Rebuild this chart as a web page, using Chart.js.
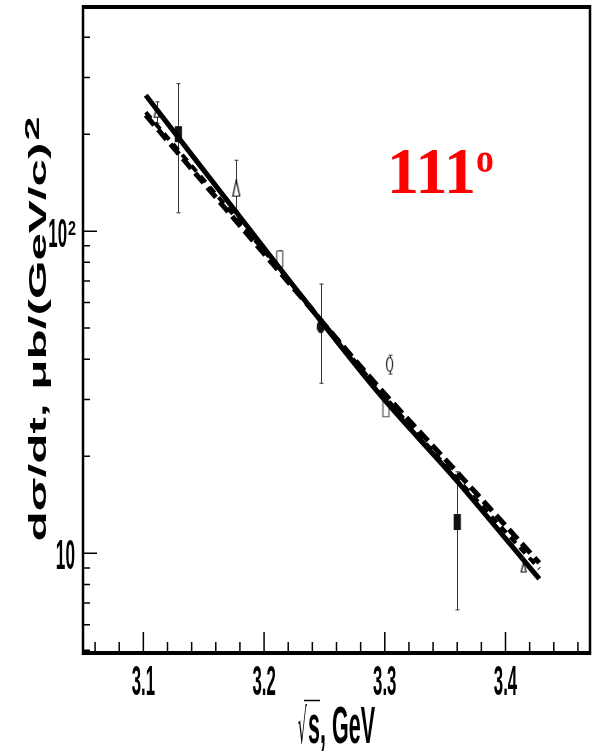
<!DOCTYPE html>
<html>
<head>
<meta charset="utf-8">
<script src="https://cdn.jsdelivr.net/npm/chart.js@4.4.1/dist/chart.umd.min.js"></script>
<style>
  html, body { margin: 0; padding: 0; background: #fff; }
  #wrap { width: 596px; height: 752px; }
</style>
</head>
<body>
<div id="wrap"><canvas id="chart" width="596" height="752"></canvas></div>
<script>
// measured dσ/dt at 111 deg, sqrt(s) in GeV
const pointX = [3.111, 3.129, 3.177, 3.213, 3.247, 3.304, 3.301, 3.360, 3.415];
const pointY = [234, 200, 136, 82, 50.5, 38.6, 28.1, 12.5, 9.06];
const errLow = [216, 114, 116, 77, 33.7, 36, null, 6.67, null];
const errHigh = [252, 287, 166, 87, 68.5, 41.2, null, 17.9, null];
const markerKind = ["triSmall", "boxFilled", "tri", "box", "dotFilled", "ring", "box", "boxFilled", "triSmall"];

// model curves
const curveX = [3.102, 3.213, 3.295, 3.359, 3.428];
const solidY = [264, 76.7, 31.4, 16.9, 8.32];
const dashAY = [229, 74.6, 32.8, 18.0, 9.33];
const dashBY = [234, 76, 32.2, 17.2, 8.95];

// axes
const xMin = 3.05, xMax = 3.47;
const yMin = 4.9, yMax = 500;
const xLabels = [3.1, 3.2, 3.3, 3.4];
const yLabels = [10, 100];
const yMinor = [5, 6, 7, 8, 9, 20, 30, 40, 50, 60, 70, 80, 90, 200, 300, 400];

function makeMarker(kind) {
  const sizes = {
    boxFilled: [7, 16], box: [7, 17], tri: [8, 17], triSmall: [6, 11],
    dotFilled: [8, 13], ring: [7, 15]
  };
  const [w, h] = sizes[kind];
  const c = document.createElement("canvas");
  c.width = w + 2;
  c.height = h + 2;
  const g = c.getContext("2d");
  g.translate(1, 1);
  g.lineWidth = 1.2;
  g.fillStyle = "#fff";
  g.strokeStyle = "#111";
  g.beginPath();
  if (kind === "boxFilled" || kind === "box") {
    g.rect(0.5, 0.5, w - 1, h - 1);
  } else if (kind === "tri" || kind === "triSmall") {
    g.moveTo(w / 2, 0.5);
    g.lineTo(w - 0.5, h - 0.5);
    g.lineTo(0.5, h - 0.5);
    g.closePath();
  } else {
    g.ellipse(w / 2, h / 2, w / 2 - 0.5, h / 2 - 0.5, 0, 0, Math.PI * 2);
  }
  if (kind === "boxFilled" || kind === "dotFilled") {
    g.fillStyle = "#111";
  }
  if (kind === "box") g.strokeStyle = "#555";
  g.fill();
  g.stroke();
  return c;
}

const markerStyles = markerKind.map(makeMarker);

// text squeezed horizontally like the original plot fonts
function squeezedText(ctx, str, x, y, font, sx, sy, align) {
  ctx.save();
  ctx.translate(x, y);
  ctx.scale(sx, sy);
  ctx.font = font;
  ctx.textAlign = align;
  ctx.textBaseline = "alphabetic";
  ctx.fillText(str, 0, 0);
  ctx.restore();
}

const errorBars = {
  id: "errorBars",
  beforeDatasetsDraw(chart) {
    const { ctx, scales: { x, y } } = chart;
    ctx.save();
    ctx.strokeStyle = "#333";
    ctx.lineWidth = 1;
    pointX.forEach((v, i) => {
      if (errLow[i] == null) return;
      const px = Math.round(x.getPixelForValue(v)) + 0.5;
      const y0 = y.getPixelForValue(errLow[i]);
      const y1 = y.getPixelForValue(errHigh[i]);
      ctx.beginPath();
      ctx.moveTo(px, y0); ctx.lineTo(px, y1);
      ctx.moveTo(px - 2, y0); ctx.lineTo(px + 2, y0);
      ctx.moveTo(px - 2, y1); ctx.lineTo(px + 2, y1);
      ctx.stroke();
    });
    ctx.restore();
  }
};

const frame = {
  id: "frame",
  afterDraw(chart) {
    const { ctx, chartArea: a, scales: { x, y } } = chart;
    const sans = '"Liberation Sans", Arial, sans-serif';
    ctx.save();
    ctx.strokeStyle = "#000";
    ctx.fillStyle = "#000";

    // box
    ctx.lineWidth = 4;
    ctx.beginPath();
    ctx.moveTo(a.left - 1, a.top + 1); ctx.lineTo(a.right + 1, a.top + 1);
    ctx.moveTo(a.left - 1, a.bottom); ctx.lineTo(a.right + 1, a.bottom);
    ctx.stroke();
    ctx.lineWidth = 2.5;
    ctx.beginPath();
    ctx.moveTo(a.left, a.top - 1); ctx.lineTo(a.left, a.bottom + 2);
    ctx.moveTo(a.right, a.top - 1); ctx.lineTo(a.right, a.bottom + 2);
    ctx.stroke();

    // inward ticks
    ctx.lineWidth = 1.5;
    ctx.beginPath();
    for (let k = 0; k <= 21; k++) {
      const v = xMin + 0.01 + k * 0.02;
      if (v > xMax) break;
      const px = x.getPixelForValue(v);
      const major = xLabels.some(t => Math.abs(t - v) < 1e-6);
      ctx.moveTo(px, a.bottom);
      ctx.lineTo(px, a.bottom - (major ? 21 : 11));
    }
    yLabels.forEach(v => {
      const py = y.getPixelForValue(v);
      ctx.moveTo(a.left, py); ctx.lineTo(a.left + 14, py);
    });
    yMinor.forEach(v => {
      const py = y.getPixelForValue(v);
      ctx.moveTo(a.left, py); ctx.lineTo(a.left + 7, py);
    });
    ctx.stroke();

    // tick labels
    xLabels.forEach(v => {
      squeezedText(ctx, v.toFixed(1), x.getPixelForValue(v), 695,
        "bold 40px " + sans, 0.42, 1.05, "center");
    });
    yLabels.forEach(v => {
      const py = y.getPixelForValue(v);
      if (v === 10) {
        squeezedText(ctx, "10", 75, py + 16, "bold 40px " + sans, 0.43, 1.05, "right");
      } else {
        squeezedText(ctx, "10", 67, py + 16, "bold 40px " + sans, 0.42, 1.0, "right");
        squeezedText(ctx, String(Math.round(Math.log10(v))), 68, py + 4,
          "bold 20px " + sans, 0.72, 1.0, "left");
      }
    });

    // y title, read bottom to top
    ctx.save();
    ctx.translate(46, 342);
    ctx.rotate(-Math.PI / 2);
    ctx.font = "bold 24px " + sans;
    const yTitle = "dσ/dt, μb/(GeV/c)";
    const along = 399 / ctx.measureText(yTitle).width;
    ctx.scale(along, 1);
    ctx.textAlign = "center";
    ctx.textBaseline = "alphabetic";
    ctx.fillText(yTitle, 0, 0);
    ctx.font = "bold 21px " + sans;
    ctx.textAlign = "left";
    ctx.fillText("2", 199.5 / along + 1, -7);
    ctx.restore();

    // x title
    ctx.save();
    ctx.font = "bold 48px " + sans;
    const xsx = 67 / ctx.measureText("s, GeV").width;
    ctx.restore();
    squeezedText(ctx, "s, GeV", 308, 743, "bold 48px " + sans, xsx, 1.08, "left");
    squeezedText(ctx, "√", 307, 743, '48px "DejaVu Sans", sans-serif', 0.3, 1.0, "right");
    ctx.lineWidth = 1.5;
    ctx.beginPath();
    ctx.moveTo(304, 700.5); ctx.lineTo(320, 700.5);
    ctx.stroke();

    // angle tag
    ctx.fillStyle = "#ff0000";
    squeezedText(ctx, "111", 387, 193,
      'bold 66px "Liberation Serif", "Times New Roman", serif', 0.97, 1.0, "left");
    squeezedText(ctx, "o", 476, 172,
      'bold 42px "Liberation Serif", "Times New Roman", serif', 0.85, 1.0, "left");
    ctx.restore();
  }
};

const toXY = (xs, ys) => xs.map((v, i) => ({ x: v, y: ys[i] }));

new Chart(document.getElementById("chart"), {
  type: "scatter",
  data: {
    datasets: [
      {
        data: toXY(curveX, solidY), showLine: true, borderColor: "#000",
        borderWidth: 5, pointRadius: 0, cubicInterpolationMode: "monotone"
      },
      {
        data: toXY(curveX, dashAY), showLine: true, borderColor: "#000",
        borderWidth: 5, borderDash: [13, 6], pointRadius: 0, cubicInterpolationMode: "monotone"
      },
      {
        data: toXY(curveX, dashBY), showLine: true, borderColor: "#000",
        borderWidth: 4, borderDash: [8, 6], pointRadius: 0, cubicInterpolationMode: "monotone"
      },
      {
        data: toXY(pointX, pointY), showLine: false,
        pointStyle: markerStyles, pointRadius: 5
      }
    ]
  },
  options: {
    responsive: false,
    animation: false,
    events: [],
    layout: { padding: { left: 83, right: 6, top: 6, bottom: 99 } },
    plugins: { legend: { display: false }, tooltip: { enabled: false } },
    scales: {
      x: { type: "linear", min: xMin, max: xMax, display: false },
      y: { type: "logarithmic", min: yMin, max: yMax, display: false }
    }
  },
  plugins: [errorBars, frame]
});
</script>
</body>
</html>
